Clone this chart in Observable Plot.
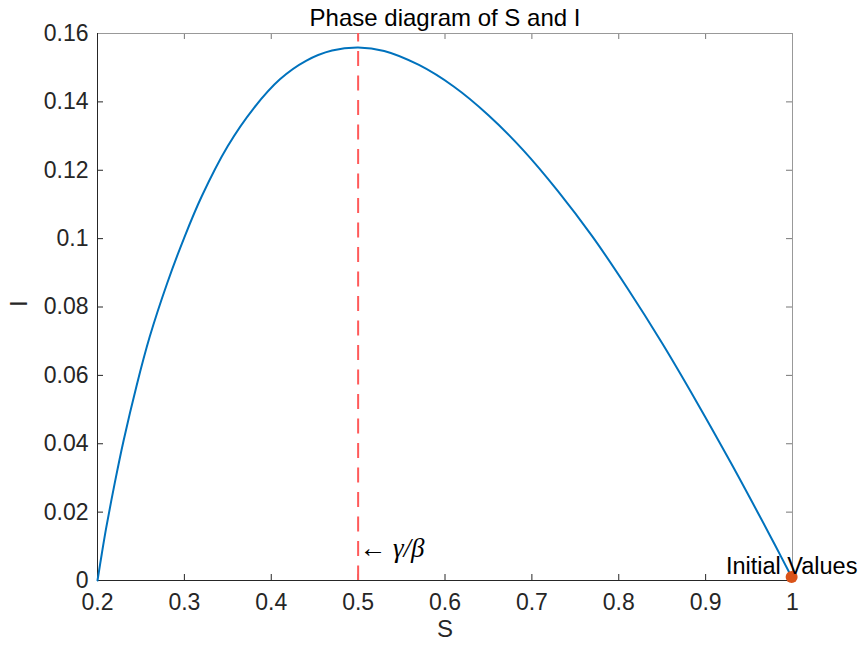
<!DOCTYPE html>
<html>
<head>
<meta charset="utf-8">
<script src="https://cdn.jsdelivr.net/npm/d3@7"></script>
<script src="https://cdn.jsdelivr.net/npm/@observablehq/plot@0.6"></script>
<style>
  html, body { margin: 0; padding: 0; background: #fff; }
  #chart svg { display: block; }
</style>
</head>
<body>
<div id="chart"></div>
<script>
// Curve values (S, I)
const S = [0.200, 0.205, 0.210, 0.220, 0.230, 0.245, 0.260, 0.280, 0.300, 0.320, 0.350, 0.380, 0.410, 0.440, 0.470, 0.500, 0.530, 0.570, 0.610, 0.650, 0.690, 0.730, 0.770, 0.810, 0.850, 0.890, 0.930, 0.960, 0.980, 0.999];
const I = [0.0000, 0.0079, 0.0154, 0.0287, 0.0409, 0.0570, 0.0712, 0.0868, 0.1004, 0.1124, 0.1271, 0.1382, 0.1466, 0.1520, 0.1550, 0.1559, 0.1549, 0.1508, 0.1445, 0.1361, 0.1259, 0.1139, 0.1005, 0.0855, 0.0694, 0.0521, 0.0340, 0.0199, 0.0103, 0.0010];

const xTicks = [0.2, 0.3, 0.4, 0.5, 0.6, 0.7, 0.8, 0.9, 1];
const xTickLabels = ["0.2", "0.3", "0.4", "0.5", "0.6", "0.7", "0.8", "0.9", "1"];
const yTicks = [0, 0.02, 0.04, 0.06, 0.08, 0.1, 0.12, 0.14, 0.16];
const yTickLabels = ["0", "0.02", "0.04", "0.06", "0.08", "0.1", "0.12", "0.14", "0.16"];

const ratio = [0.5];            // gamma/beta
const ratioLabelI = [0.0095];
const initialS = [0.999];
const initialI = [0.001];

const titleText = "Phase diagram of S and I";
const xLabel = "S";
const yLabel = "I";
const ratioLabel = "\u2190 \u03B3/\u03B2";
const initLabel = "Initial Values";

const curve = S.map((s, i) => ({S: s, I: I[i]}));
const init = initialS.map((s, i) => ({S: s, I: initialI[i]}));
const ratioPts = ratio.map((r, i) => ({S: r, I: ratioLabelI[i]}));

const W = 860, H = 647;
const mL = 97, mR = 68, mT = 33, mB = 67;
const ph = H - mT - mB;
const pw = W - mL - mR;
const tickLen = 6;
const axisCol = "#262626";
const font = "'Liberation Sans', Arial, Helvetica, sans-serif";

const chart = Plot.plot({
  width: W,
  height: H,
  marginLeft: mL,
  marginRight: mR,
  marginTop: mT,
  marginBottom: mB,
  style: {fontFamily: font, background: "#fff", color: axisCol},
  x: {domain: [0.2, 1], label: null},
  y: {domain: [0, 0.16], label: null},
  marks: [
    // tick labels
    Plot.axisX(xTicks, {tickSize: 0, tickPadding: 13, fontSize: 23, tickFormat: (d, i) => xTickLabels[i], label: null, fill: axisCol}),
    Plot.axisY(yTicks, {tickSize: 0, tickPadding: 9, fontSize: 23, tickFormat: (d, i) => yTickLabels[i], label: null, fill: axisCol}),
    // inward ticks on all four sides
    Plot.tickX(xTicks, {x: d => d, insetTop: ph - tickLen, stroke: axisCol, strokeWidth: 1}),
    Plot.tickX(xTicks, {x: d => d, insetBottom: ph - tickLen, stroke: "#777", strokeWidth: 1}),
    Plot.tickY(yTicks, {y: d => d, insetRight: pw - tickLen, stroke: axisCol, strokeWidth: 1}),
    Plot.tickY(yTicks, {y: d => d, insetLeft: pw - tickLen, stroke: "#777", strokeWidth: 1}),
    // box
    Plot.ruleY([0.16], {stroke: "#999", strokeWidth: 1}),
    Plot.ruleX([1], {stroke: "#999", strokeWidth: 1}),
    Plot.ruleY([0], {stroke: axisCol, strokeWidth: 1}),
    Plot.ruleX([0.2], {stroke: axisCol, strokeWidth: 1}),
    // gamma/beta dashed line
    Plot.ruleX(ratio, {x: d => d, stroke: "#ff5a5a", strokeWidth: 2, strokeDasharray: "15,9.5", strokeDashoffset: 6.5}),
    // phase curve
    Plot.line(curve, {x: "S", y: "I", stroke: "#0072BD", strokeWidth: 2, curve: "catmull-rom"}),
    // initial point
    Plot.dot(init, {x: "S", y: "I", r: 6, fill: "#D95319", stroke: "none"}),
    Plot.text(init, {x: "S", y: "I", text: () => initLabel, textAnchor: "middle", lineAnchor: "bottom", dy: -3, fontSize: 23.5, fill: "#000"}),
    // gamma/beta label
    Plot.text(ratioPts, {x: "S", y: "I", text: () => ratioLabel, textAnchor: "start", dx: 1, fontSize: 27, fontFamily: "'Liberation Serif', 'DejaVu Serif', serif", fontStyle: "italic", fill: "#000"}),
    // title & axis labels
    Plot.text([titleText], {frameAnchor: "top", lineAnchor: "bottom", dy: -8, fontSize: 24, fill: "#000"}),
    Plot.text([xLabel], {frameAnchor: "bottom", lineAnchor: "top", dy: 39, fontSize: 24, fill: axisCol}),
    Plot.text([yLabel], {frameAnchor: "left", rotate: -90, dx: -78, fontSize: 24, fill: axisCol})
  ]
});

document.getElementById("chart").appendChild(chart);
</script>
</body>
</html>
